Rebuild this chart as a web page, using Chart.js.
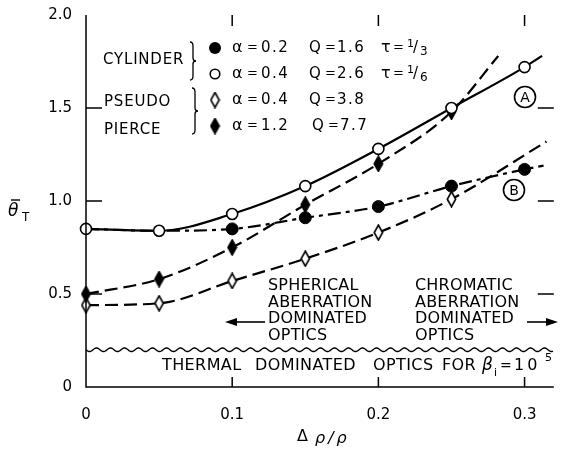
<!DOCTYPE html>
<html>
<head>
<meta charset="utf-8">
<script src="https://cdn.jsdelivr.net/npm/chart.js@4.4.1/dist/chart.umd.min.js"></script>
<style>
  html, body { margin: 0; padding: 0; background: #fff; }
  #wrap { width: 561px; height: 451px; }
</style>
</head>
<body>
<div id="wrap"><canvas id="myChart" width="561" height="451"></canvas></div>
<script>
const xTicks = [0, 0.1, 0.2, 0.3];
const yTicks = [0, 0.5, 1.0, 1.5, 2.0];

// curve A, open circles (cylinder, a = 0.4)
const xOpenCircle = [0, 0.05, 0.1, 0.15, 0.2, 0.25, 0.3, 0.312];
const yOpenCircle = [0.85, 0.84, 0.93, 1.08, 1.28, 1.50, 1.72, 1.78];
// curve B, filled circles (cylinder, a = 0.2)
const xFullCircle = [0, 0.05, 0.1, 0.15, 0.2, 0.25, 0.3, 0.313];
const yFullCircle = [0.85, 0.84, 0.85, 0.91, 0.97, 1.08, 1.17, 1.19];
// pierce, filled diamonds (a = 1.2)
const xFullDiamond = [0, 0.05, 0.1, 0.15, 0.2, 0.25, 0.282];
const yFullDiamond = [0.50, 0.58, 0.75, 0.98, 1.20, 1.48, 1.78];
// pseudo pierce, open diamonds (a = 0.4)
const xOpenDiamond = [0, 0.05, 0.1, 0.15, 0.2, 0.25, 0.315];
const yOpenDiamond = [0.44, 0.45, 0.57, 0.69, 0.83, 1.01, 1.32];

const FONT = "'DejaVu Sans', sans-serif";

function diamond(filled) {
  const c = document.createElement("canvas");
  c.width = 11;
  c.height = 17;
  const g = c.getContext("2d");
  g.beginPath();
  g.moveTo(5.5, 1);
  g.lineTo(9.7, 8.5);
  g.lineTo(5.5, 16);
  g.lineTo(1.3, 8.5);
  g.closePath();
  g.fillStyle = filled ? "#000" : "#fff";
  g.fill();
  g.lineWidth = 1.6;
  g.strokeStyle = "#000";
  g.stroke();
  return c;
}
const openDia = diamond(false);
const fullDia = diamond(true);

function pts(xs, ys) {
  return xs.map((x, i) => ({ x: x, y: ys[i] }));
}

// marker shown only for points first..last
function marks(first, last, r) {
  return (c) => (c.dataIndex >= first && c.dataIndex <= last ? r : 0);
}

const data = {
  datasets: [
    {
      data: pts(xOpenCircle, yOpenCircle),
      borderColor: "#000",
      borderWidth: 2.2,
      pointStyle: "circle",
      pointRadius: marks(0, 6, 5.5),
      pointBackgroundColor: "#fff",
      pointBorderColor: "#000",
      pointBorderWidth: 1.6,
    },
    {
      data: pts(xFullCircle, yFullCircle),
      borderColor: "#000",
      borderWidth: 2.2,
      borderDash: [13, 5, 4, 5],
      pointStyle: "circle",
      pointRadius: marks(2, 6, 6),
      pointBackgroundColor: "#000",
      pointBorderColor: "#000",
      pointBorderWidth: 1,
    },
    {
      data: pts(xFullDiamond, yFullDiamond),
      borderColor: "#000",
      borderWidth: 2.2,
      borderDash: [13, 6],
      pointStyle: fullDia,
      pointRadius: marks(0, 5, 5),
    },
    {
      data: pts(xOpenDiamond, yOpenDiamond),
      borderColor: "#000",
      borderWidth: 2.2,
      borderDash: [13, 6],
      pointStyle: openDia,
      pointRadius: marks(0, 5, 5),
    },
  ],
};

function txt(ctx, s, x, y, size, opt) {
  opt = opt || {};
  ctx.save();
  ctx.font = (opt.italic ? "italic " : "") + size + "px " + FONT;
  ctx.fillStyle = "#000";
  ctx.textAlign = opt.align || "left";
  ctx.textBaseline = "middle";
  ctx.letterSpacing = (opt.ls === undefined ? 0 : opt.ls) + "px";
  ctx.fillText(s, x, y);
  ctx.restore();
}

function brace(ctx, x, top, bottom) {
  const mid = (top + bottom) / 2;
  ctx.beginPath();
  ctx.moveTo(x, top);
  ctx.quadraticCurveTo(x + 3, top, x + 3, top + 4);
  ctx.lineTo(x + 3, mid - 3);
  ctx.quadraticCurveTo(x + 3, mid, x + 6, mid);
  ctx.quadraticCurveTo(x + 3, mid, x + 3, mid + 3);
  ctx.lineTo(x + 3, bottom - 4);
  ctx.quadraticCurveTo(x + 3, bottom, x, bottom);
  ctx.stroke();
}

function arrow(ctx, x1, x2, y) {
  const dir = Math.sign(x2 - x1);
  ctx.beginPath();
  ctx.moveTo(x1, y);
  ctx.lineTo(x2 - dir * 8, y);
  ctx.stroke();
  ctx.beginPath();
  ctx.moveTo(x2, y);
  ctx.lineTo(x2 - dir * 12, y - 4);
  ctx.lineTo(x2 - dir * 12, y + 4);
  ctx.closePath();
  ctx.fill();
}

function circLetter(ctx, s, x, y) {
  ctx.beginPath();
  ctx.arc(x, y, 10.5, 0, Math.PI * 2);
  ctx.stroke();
  txt(ctx, s, x, y + 1, 14, { align: "center" });
}

const annot = {
  id: "annot",
  afterDatasetsDraw(chart) {
    const ctx = chart.ctx;
    const xs = chart.scales.x;
    const ys = chart.scales.y;
    const a = chart.chartArea;
    ctx.save();
    ctx.strokeStyle = "#000";
    ctx.fillStyle = "#000";
    ctx.lineWidth = 1.5;

    // frame: left and bottom axis
    ctx.beginPath();
    ctx.moveTo(a.left, a.top);
    ctx.lineTo(a.left, a.bottom);
    ctx.lineTo(a.right, a.bottom);
    ctx.stroke();

    // inside ticks
    ctx.beginPath();
    xTicks.forEach((v) => {
      if (v === 0) return;
      const px = xs.getPixelForValue(v);
      ctx.moveTo(px, a.bottom);
      ctx.lineTo(px, a.bottom - 10);
      ctx.moveTo(px, a.top);
      ctx.lineTo(px, a.top + 11);
    });
    yTicks.forEach((v) => {
      if (v === 0 || v === 2) return;
      const py = ys.getPixelForValue(v);
      ctx.moveTo(a.left, py);
      ctx.lineTo(a.left + 16, py);
      ctx.moveTo(a.right, py);
      ctx.lineTo(a.right - 16, py);
    });
    ctx.stroke();

    // wavy thermal limit
    const yw = ys.getPixelForValue(0.2);
    ctx.lineWidth = 1.4;
    ctx.beginPath();
    for (let x = a.left; x <= a.right; x++) {
      const y = yw + 1.8 * Math.sin(((x - a.left) * 2 * Math.PI) / 14);
      if (x === a.left) ctx.moveTo(x, y);
      else ctx.lineTo(x, y);
    }
    ctx.stroke();

    // axis titles
    txt(ctx, "θ", 8, 212, 17, { italic: true });
    ctx.beginPath();
    ctx.moveTo(11, 200);
    ctx.lineTo(20, 200);
    ctx.stroke();
    txt(ctx, "T", 22, 218, 12);
    txt(ctx, "Δ", 297, 437, 16);
    txt(ctx, "ρ/ρ", 315, 439, 16, { italic: true, ls: 3 });

    // legend block
    ctx.lineWidth = 1.3;
    txt(ctx, "CYLINDER", 103, 60, 15, { ls: 0.8 });
    brace(ctx, 190, 42, 80);
    txt(ctx, "PSEUDO", 104, 102, 15, { ls: 0.8 });
    txt(ctx, "PIERCE", 104, 130, 15, { ls: 0.8 });
    brace(ctx, 192, 88, 134);

    const rows = [48, 74, 100, 126];
    ctx.beginPath();
    ctx.arc(215, rows[0], 6, 0, Math.PI * 2);
    ctx.fill();
    ctx.beginPath();
    ctx.arc(215, rows[1], 4.8, 0, Math.PI * 2);
    ctx.fillStyle = "#fff";
    ctx.fill();
    ctx.lineWidth = 1.6;
    ctx.stroke();
    ctx.fillStyle = "#000";
    ctx.drawImage(openDia, 215 - openDia.width / 2, rows[2] - openDia.height / 2);
    ctx.drawImage(fullDia, 215 - fullDia.width / 2, rows[3] - fullDia.height / 2);

    const alphas = ["0.2", "0.4", "0.4", "1.2"];
    const qs = ["1.6", "2.6", "3.8", "7.7"];
    rows.forEach((y, i) => {
      const dq = i === 3 ? 3 : 0;
      txt(ctx, "α", 232, y, 16);
      txt(ctx, "=", 247, y, 13);
      txt(ctx, alphas[i], 261, y, 15, { ls: 1.5 });
      txt(ctx, "Q", 309 + dq, y, 15, { ls: 1 });
      txt(ctx, "=", 325 + dq, y, 13);
      txt(ctx, qs[i], 337 + dq, y, 15, { ls: 1.5 });
    });
    [["1", "3"], ["1", "6"]].forEach((f, i) => {
      const y = rows[i];
      txt(ctx, "τ", 381, y, 16);
      txt(ctx, "=", 393, y, 13);
      txt(ctx, f[0], 407, y - 4, 11);
      txt(ctx, "/", 413, y, 15);
      txt(ctx, f[1], 420, y + 4, 12);
    });

    circLetter(ctx, "A", 525, 97);
    circLetter(ctx, "B", 514, 190);

    // region notes
    const lines = [286, 303, 319, 336];
    ["SPHERICAL", "ABERRATION", "DOMINATED", "OPTICS"].forEach((s, i) =>
      txt(ctx, s, 268, lines[i], 16, { ls: 0.2 })
    );
    ["CHROMATIC", "ABERRATION", "DOMINATED", "OPTICS"].forEach((s, i) =>
      txt(ctx, s, 415, lines[i], 16, { ls: 0.2 })
    );
    ctx.lineWidth = 1.6;
    arrow(ctx, 265, 225, 322);
    arrow(ctx, 527, 558, 322);

    [["THERMAL", 162], ["DOMINATED", 255], ["OPTICS", 373], ["FOR", 442]].forEach((w) =>
      txt(ctx, w[0], w[1], 366, 16, { ls: 0.4 })
    );
    txt(ctx, "β", 482, 366, 17, { italic: true });
    txt(ctx, "i", 494, 373, 11);
    txt(ctx, "=", 500, 366, 14);
    txt(ctx, "10", 514, 366, 16, { ls: 3 });
    txt(ctx, "5", 545, 358, 11);

    ctx.restore();
  },
};

const tickFont = { family: FONT, size: 15 };

const config = {
  type: "line",
  data: data,
  options: {
    responsive: false,
    animation: false,
    clip: false,
    cubicInterpolationMode: "monotone",
    layout: { padding: { top: 14, right: 1, left: 0, bottom: 0 } },
    scales: {
      x: {
        type: "linear",
        min: 0,
        max: 0.32,
        afterFit: (s) => { s.height = 64; },
        ticks: {
          stepSize: 0.1,
          includeBounds: false,
          font: tickFont,
          color: "#000",
          padding: 11,
          maxRotation: 0,
          callback: (v) => (v === 0 ? "0" : v.toFixed(1)),
        },
        grid: { display: false },
        border: { display: false },
      },
      y: {
        min: 0,
        max: 2.0,
        afterFit: (s) => { s.width = 86; },
        ticks: {
          stepSize: 0.5,
          font: tickFont,
          color: "#000",
          padding: 6,
          callback: (v) => (v === 0 ? "0" : v.toFixed(1)),
        },
        grid: { display: false },
        border: { display: false },
      },
    },
    plugins: {
      legend: { display: false },
      tooltip: { enabled: false },
    },
  },
  plugins: [annot],
};

const myChart = new Chart(document.getElementById("myChart"), config);
</script>
</body>
</html>
